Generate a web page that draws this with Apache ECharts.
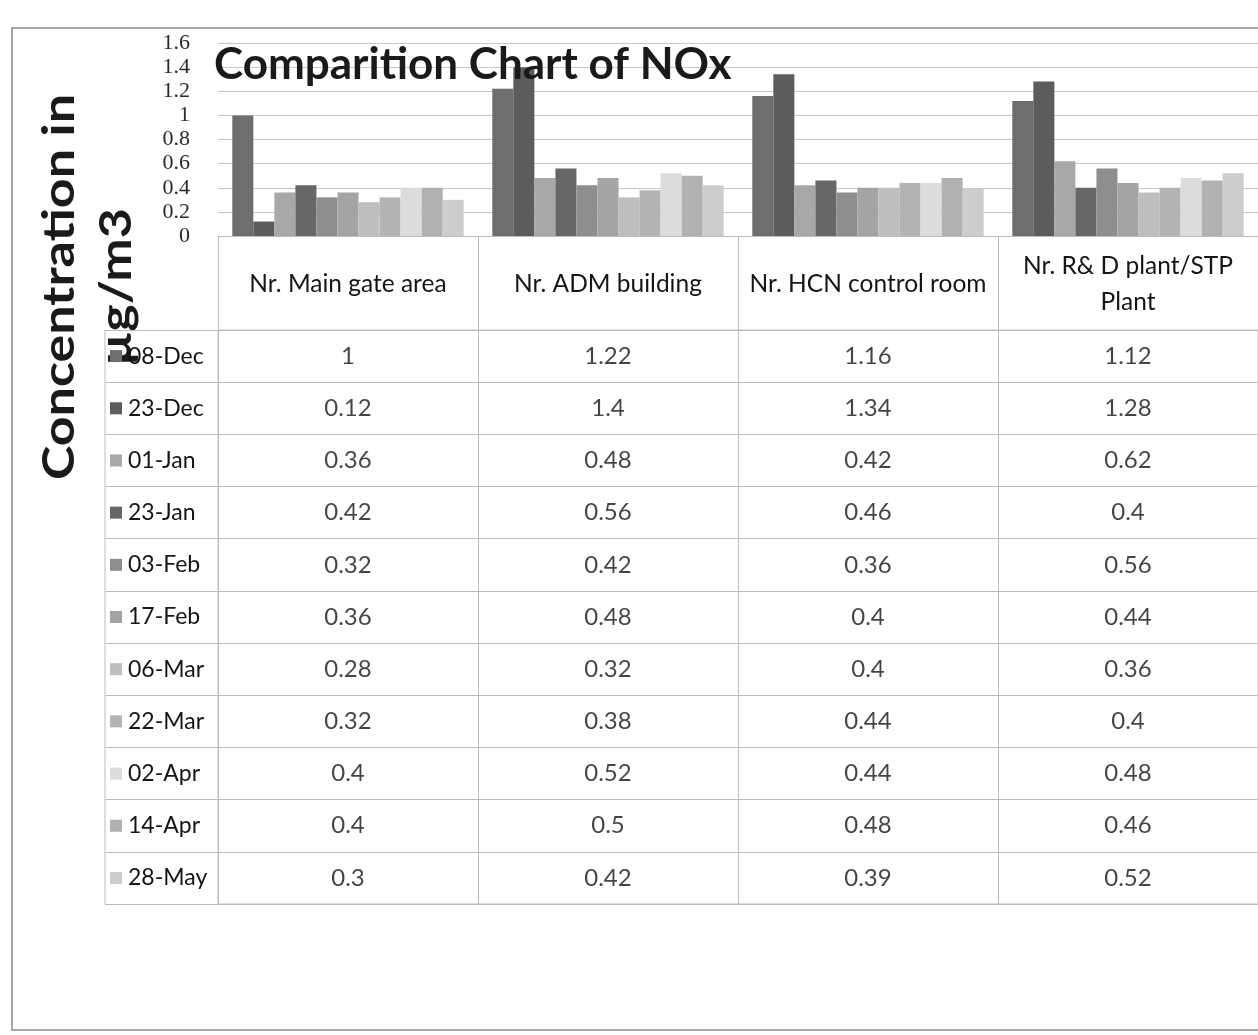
<!DOCTYPE html>
<html><head><meta charset="utf-8">
<script src="https://cdn.jsdelivr.net/npm/echarts@6/dist/echarts.min.js"></script>
<style>html,body{margin:0;padding:0;background:#fff}#c{width:1258px;height:1035px}</style>
</head><body><div id="c"></div>
<script>
// ---- data ----
const locations = ['Nr. Main gate area', 'Nr. ADM building', 'Nr. HCN control room', 'Nr. R& D plant/STP\nPlant'];
const dates = ['08-Dec', '23-Dec', '01-Jan', '23-Jan', '03-Feb', '17-Feb', '06-Mar', '22-Mar', '02-Apr', '14-Apr', '28-May'];
const mainGate = [1, 0.12, 0.36, 0.42, 0.32, 0.36, 0.28, 0.32, 0.4, 0.4, 0.3];
const admBuilding = [1.22, 1.4, 0.48, 0.56, 0.42, 0.48, 0.32, 0.38, 0.52, 0.5, 0.42];
const hcnControlRoom = [1.16, 1.34, 0.42, 0.46, 0.36, 0.4, 0.4, 0.44, 0.44, 0.48, 0.39];
const rdPlant = [1.12, 1.28, 0.62, 0.4, 0.56, 0.44, 0.36, 0.4, 0.48, 0.46, 0.52];
const yMin = 0, yMax = 1.6, yStep = 0.2;
const titleText = 'Comparition Chart of NOx';
const yName = 'Concentration in\n\u00b5g/m3';

// ---- style ----
const colors = ['#6e6e6e', '#5c5c5c', '#a8a8a8', '#676767', '#8e8e8e', '#a4a4a4', '#bebebe', '#b4b4b4', '#dcdcdc', '#b1b1b1', '#cdcdcd'];
const lineCol = '#bdbdbd';
const txt = '#151515';
const sans = 'Lato, "Noto Sans", sans-serif';

const byLocation = [mainGate, admBuilding, hcnControlRoom, rdPlant];
const barSeries = dates.map((d, i) => ({
  name: d, type: 'bar', xAxisIndex: 0, yAxisIndex: 0,
  data: byLocation.map(arr => arr[i]),
  itemStyle: { color: colors[i] },
  barGap: '0%', barCategoryGap: '11%'
}));
const tableData = [];
byLocation.forEach((arr, j) => arr.forEach((v, i) => tableData.push([j, i, v])));

const rich = {};
colors.forEach((c, i) => { rich['s' + i] = { width: 12, height: 12, backgroundColor: c }; });
rich.t = { fontSize: 23, fontFamily: sans, color: txt, padding: [0, 0, 0, 6] };

const chart = echarts.init(document.getElementById('c'));
chart.setOption({
  animation: false,
  backgroundColor: '#fff',
  title: {
    text: titleText, left: 209, top: 38,
    textStyle: { fontFamily: sans, fontWeight: 'bold', fontSize: 44, color: '#1a1a1a' }
  },
  grid: [
    { left: 218, right: 0, top: 43, bottom: 1035 - 236 },
    { left: 218, right: 0, top: 330, bottom: 1035 - 904, show: true, borderColor: lineCol, borderWidth: 1 }
  ],
  xAxis: [
    {
      type: 'category', gridIndex: 0, data: locations,
      axisLine: { show: true, lineStyle: { color: lineCol } },
      axisTick: { show: true, length: 94, lineStyle: { color: lineCol } },
      axisLabel: { margin: 48, verticalAlign: 'middle', fontSize: 24.5, lineHeight: 36, fontFamily: sans, color: txt, interval: 0 }
    },
    {
      type: 'category', gridIndex: 1, data: locations,
      axisLine: { show: false }, axisTick: { show: false }, axisLabel: { show: false },
      splitLine: { show: true, lineStyle: { color: lineCol } }
    }
  ],
  yAxis: [
    {
      type: 'value', gridIndex: 0, min: yMin, max: yMax, interval: yStep,
      axisLine: { show: false }, axisTick: { show: false },
      splitLine: { lineStyle: { color: '#c8c8c8' } },
      axisLabel: {
        margin: 28, fontSize: 22, fontFamily: '"Liberation Serif", serif', color: '#2a2a2a',
        showMinLabel: true, showMaxLabel: true
      }
    },
    {
      type: 'category', gridIndex: 1, data: dates, inverse: true,
      axisLine: { show: false },
      axisTick: { show: true, length: 113, lineStyle: { color: lineCol } },
      splitLine: { show: true, lineStyle: { color: lineCol } },
      axisLabel: {
        align: 'left', margin: 108,
        formatter: (v, i) => '{s' + i + '|}{t|' + v + '}', rich: rich
      }
    }
  ],
  series: barSeries.concat([{
    type: 'scatter', xAxisIndex: 1, yAxisIndex: 1, data: tableData,
    symbolSize: 1, itemStyle: { color: 'rgba(0,0,0,0)' },
    label: { show: true, position: 'inside', formatter: p => String(p.value[2]), fontSize: 24, fontFamily: sans, color: txt }
  }]),
  graphic: [
    { type: 'rect', shape: { x: 12, y: 28, width: 1300, height: 1002 }, style: { fill: 'none', stroke: '#8a8a8a', lineWidth: 1.5 }, silent: true },
    { type: 'line', shape: { x1: 105, y1: 330, x2: 105, y2: 904 }, style: { stroke: lineCol, lineWidth: 1 }, silent: true },
    {
      type: 'text', x: 88, y: 287, rotation: Math.PI / 2, scaleX: 1.18, silent: true,
      style: { text: yName, font: 'bold 44px ' + sans, fill: '#1a1a1a', textAlign: 'center', textVerticalAlign: 'middle', lineHeight: 57 }
    }
  ]
});
</script>
</body></html>
